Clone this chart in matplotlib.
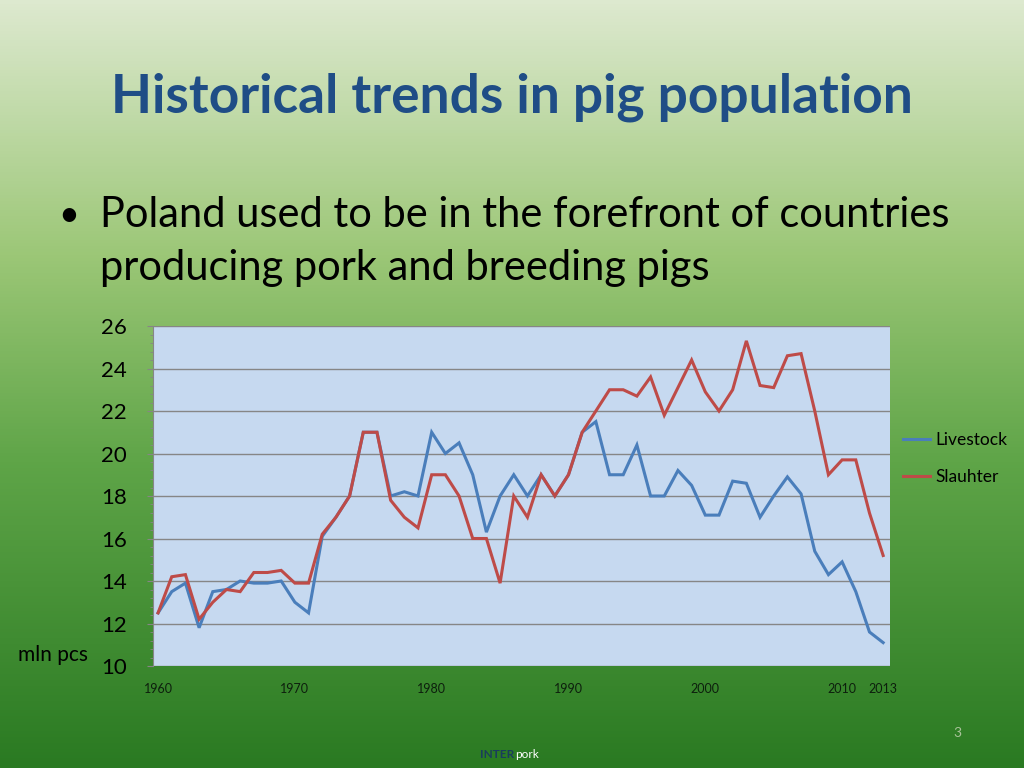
import numpy as np
import matplotlib
matplotlib.use("Agg")
import matplotlib.pyplot as plt
from matplotlib.colors import LinearSegmentedColormap

years = list(range(1960, 2014))
livestock = [12.5, 13.5, 13.9, 11.8, 13.5, 13.6, 14.0, 13.9, 13.9, 14.0,
             13.0, 12.5, 16.1, 17.0, 18.0, 21.0, 21.0, 18.0, 18.2, 18.0,
             21.0, 20.0, 20.5, 19.0, 16.3, 18.0, 19.0, 18.0, 19.0, 18.0,
             19.0, 21.0, 21.5, 19.0, 19.0, 20.4, 18.0, 18.0, 19.2, 18.5,
             17.1, 17.1, 18.7, 18.6, 17.0, 18.0, 18.9, 18.1, 15.4, 14.3,
             14.9, 13.5, 11.6, 11.1]
slaughter = [12.5, 14.2, 14.3, 12.2, 13.0, 13.6, 13.5, 14.4, 14.4, 14.5,
             13.9, 13.9, 16.2, 17.0, 18.0, 21.0, 21.0, 17.8, 17.0, 16.5,
             19.0, 19.0, 18.0, 16.0, 16.0, 13.9, 18.0, 17.0, 19.0, 18.0,
             19.0, 21.0, 22.0, 23.0, 23.0, 22.7, 23.6, 21.8, 23.1, 24.4,
             22.9, 22.0, 23.0, 25.3, 23.2, 23.1, 24.6, 24.7, 22.0, 19.0,
             19.7, 19.7, 17.2, 15.2]
series_names = ["Livestock", "Slauhter"]
x_tick_years = [1960, 1970, 1980, 1990, 2000, 2010, 2013]
y_ticks = [10, 12, 14, 16, 18, 20, 22, 24, 26]

W, H = 1024, 768
fig = plt.figure(figsize=(W / 100, H / 100), dpi=100)

# background gradient
bg = fig.add_axes([0, 0, 1, 1])
cmap = LinearSegmentedColormap.from_list(
    "bg", [(0.0, "#dde9cf"), (0.33, "#9cc777"), (0.6, "#5fa548"), (1.0, "#2a7a22")])
grad = np.linspace(0, 1, 256).reshape(-1, 1)
bg.imshow(grad, aspect="auto", cmap=cmap, extent=[0, 1, 0, 1], origin="upper")
bg.set_xlim(0, 1); bg.set_ylim(0, 1)
bg.axis("off")

def fx(px):
    return px / W

def fy(py):
    return 1 - py / H

FONT = "Lato"

fig.text(fx(512), fy(97), "Historical trends in pig population", ha="center", va="center",
         fontsize=38.3, fontweight="bold", color="#1f4d86", family=FONT)
fig.text(fx(58), fy(215), "\u2022", ha="left", va="center", fontsize=26, color="black", family=FONT)
fig.text(fx(100), fy(215), "Poland used to be in the forefront of countries", ha="left", va="center",
         fontsize=30, color="black", family=FONT)
fig.text(fx(100), fy(268), "producing pork and breeding pigs", ha="left", va="center",
         fontsize=30, color="black", family=FONT)

# chart axes
L, R, T, B = 153, 890, 326, 666
ax = fig.add_axes([fx(L), fy(B), (R - L) / W, (B - T) / H])
ax.set_facecolor("#c6d9f0")
ax.plot(years, livestock, color="#4a7ebb", lw=2.2, label=series_names[0], solid_joinstyle="miter")
ax.plot(years, slaughter, color="#be4b48", lw=2.2, label=series_names[1], solid_joinstyle="miter")
ax.set_xlim(1959.63, 2013.5)
ax.set_ylim(10, 26)
ax.set_yticks(y_ticks)
ax.set_yticks(np.arange(10, 26.01, 0.4), minor=True)
ax.set_xticks(x_tick_years)
ax.grid(axis="y", color="#868686", lw=1.0)
ax.set_axisbelow(True)
for s in ["top", "right", "bottom"]:
    ax.spines[s].set_visible(False)
ax.spines["left"].set_color("#868686")
ax.tick_params(axis="y", which="major", length=4, color="#868686", labelsize=16, pad=15)
ax.tick_params(axis="y", which="minor", length=2.5, color="#868686")
ax.tick_params(axis="x", length=0, labelsize=9, pad=12, labelcolor="#0d1f0d")
for lab in ax.get_yticklabels() + ax.get_xticklabels():
    lab.set_family(FONT)

leg = fig.legend(loc="upper left", bbox_to_anchor=(fx(887), fy(416)), frameon=False,
                 prop={"family": FONT, "size": 12.5}, handlelength=1.6, handletextpad=0.3,
                 labelspacing=1.25)

fig.text(fx(18), fy(655), "mln pcs", ha="left", va="center", fontsize=15, color="black", family=FONT)
fig.text(fx(957), fy(733), "3", ha="center", va="center", fontsize=10, color="#a9c39a", family=FONT)
fig.text(fx(514), fy(755), "INTER", ha="right", va="center", fontsize=8.5, fontweight="bold",
         color="#1a3d5c", family=FONT)
fig.text(fx(515), fy(755), "pork", ha="left", va="center", fontsize=8.5, color="white", family=FONT)

fig.savefig("out.png", dpi=100)
